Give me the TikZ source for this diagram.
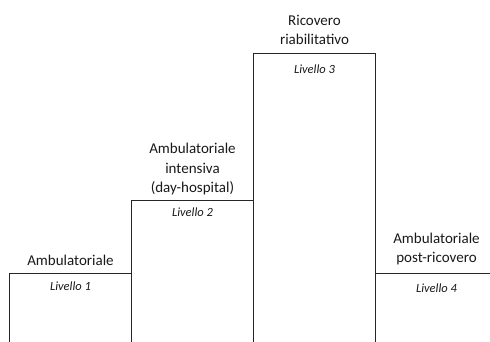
\documentclass[tikz,border=0pt]{standalone}
\usepackage{fontspec}
\setmainfont{Carlito}
\usepackage{tikz}

\tikzset{
    bar/.style={line width=0.9pt, draw=black!85},
    steplabel/.style={align=center, inner sep=0pt, text depth=0pt, anchor=south,
        font=\fontsize{15}{19.5}\selectfont, text=black!90},
    levellabel/.style={inner sep=0pt, anchor=base,
        font=\fontsize{12.5}{15}\selectfont\itshape, text=black!90}
}

\begin{document}
\begin{tikzpicture}[x=1pt, y=1pt]
        \useasboundingbox (0,0) rectangle (490,341);

        % Level 1
        \draw [bar] (9.5,-1) -- (9.5,67.5) -- (131.5,67.5) -- (131.5,-1);
        \node [steplabel] (amb) at (70.5,75.5) {Ambulatoriale};
        \node [levellabel] (liv1) at (70.5,51) {Livello 1};

        % Level 2
        \draw [bar] (131.5,67.5) -- (131.5,141) -- (253.5,141) -- (253.5,-1);
        \node [steplabel] (dayhosp) at (192.5,148) {Ambulatoriale\\intensiva\\(day-hospital)};
        \node [levellabel] (liv2) at (192.5,124.5) {Livello 2};

        % Level 3
        \draw [bar] (253.5,141) -- (253.5,288) -- (375.5,288) -- (375.5,-1);
        \node [steplabel] (ricovero) at (314.5,296) {Ricovero\\riabilitativo};
        \node [levellabel] (liv3) at (314.5,268) {Livello 3};

        % Level 4
        \draw [bar] (375.5,67.5) -- (497.5,67.5);
        \node [steplabel] (postric) at (436.5,78) {Ambulatoriale\\post-ricovero};
        \node [levellabel] (liv4) at (436.5,48.5) {Livello 4};
    \end{tikzpicture}
\end{document}
